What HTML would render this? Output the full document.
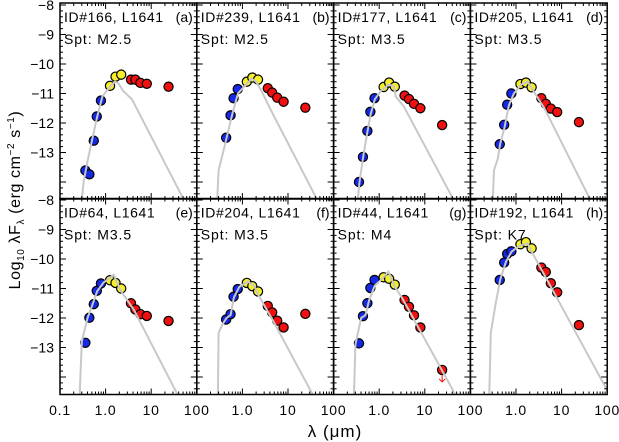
<!DOCTYPE html>
<html><head><meta charset="utf-8"><style>
body{margin:0;background:#fff}
svg{display:block;font-family:"Liberation Sans","DejaVu Sans",sans-serif}
</style></head><body>
<svg id="c" width="619" height="442" viewBox="0 0 619 442"></svg>
<script>
const panelIds=["ID#166, L1641","ID#239, L1641","ID#177, L1641","ID#205, L1641","ID#64, L1641","ID#204, L1641","ID#44, L1641","ID#192, L1641"];
const panelTags=["(a)","(b)","(c)","(d)","(e)","(f)","(g)","(h)"];
const panelSpt=["M2.5","M2.5","M3.5","M3.5","M3.5","M3.5","M4","K7"];
const yTicks=[-8,-9,-10,-11,-12,-13];
const xTicks=[0.1,1,10,100];
const xTickLabels=["0.1","1.0","10","100"];
// photometry: [lambda, log flux]
const blueA=[[0.36,-13.61],[0.44,-13.74],[0.55,-12.6],[0.64,-11.78],[0.79,-11.24]];
const yellowA=[[1.25,-10.74],[1.65,-10.43],[2.2,-10.36]];
const redA=[[3.6,-10.53],[4.5,-10.53],[5.8,-10.64],[8.0,-10.67],[24,-10.77]];
const blueB=[[0.44,-12.5],[0.55,-11.74],[0.64,-11.16],[0.79,-10.85]];
const yellowB=[[1.25,-10.6],[1.65,-10.46],[2.2,-10.53]];
const redB=[[3.6,-10.82],[4.5,-10.97],[5.8,-11.14],[8.0,-11.28],[24,-11.48]];
const blueC=[[0.36,-14.0],[0.44,-13.15],[0.55,-12.27],[0.64,-11.62],[0.79,-11.16]];
const yellowC=[[1.25,-10.78],[1.65,-10.63],[2.2,-10.77]];
const redC=[[3.6,-11.07],[4.5,-11.19],[5.8,-11.35],[8.0,-11.5],[24,-12.07]];
const blueD=[[0.44,-12.72],[0.55,-12.06],[0.64,-11.38],[0.79,-11.0]];
const yellowD=[[1.25,-10.68],[1.65,-10.63],[2.2,-10.79]];
const redD=[[3.6,-11.16],[4.5,-11.35],[5.8,-11.51],[8.0,-11.63],[24,-11.97]];
const blueE=[[0.36,-12.84],[0.44,-11.99],[0.55,-11.53],[0.64,-11.08],[0.79,-10.83]];
const yellowE=[[1.25,-10.72],[1.65,-10.81],[2.2,-11.0]];
const redE=[[3.6,-11.5],[4.5,-11.71],[5.8,-11.87],[8.0,-11.93],[24,-12.1]];
const blueF=[[0.44,-12.05],[0.55,-11.87],[0.64,-11.28],[0.79,-11.02]];
const yellowF=[[1.25,-10.81],[1.65,-10.92],[2.2,-11.1]];
const redF=[[3.6,-11.59],[4.5,-11.81],[5.8,-12.09],[8.0,-12.32],[24,-11.86]];
const blueG=[[0.36,-12.86],[0.44,-11.94],[0.55,-11.5],[0.64,-10.98],[0.79,-10.71]];
const yellowG=[[1.25,-10.62],[1.65,-10.67],[2.2,-10.87]];
const redG=[[3.6,-11.39],[4.5,-11.62],[5.8,-11.91],[8.0,-12.32],[24,-13.76]];
const blueH=[[0.44,-10.71],[0.55,-10.12],[0.64,-9.83],[0.79,-9.74]];
const yellowH=[[1.25,-9.5],[1.65,-9.43],[2.2,-9.64]];
const redH=[[3.6,-10.29],[4.5,-10.44],[5.8,-10.82],[8.0,-11.13],[24,-12.24]];
const upperLimitG=[[24,-13.76]];
// model photospheres
const modelA=[[0.3,-14.6],[0.33,-14.0],[0.4,-13.3],[0.5,-12.6],[0.65,-11.8],[0.85,-11.1],[1.2,-10.8],[1.6,-10.6],[1.9,-10.65],[2.4,-10.9],[3.8,-11.2],[48,-14.5]];
const modelB=[[0.28,-14.6],[0.3,-13.6],[0.35,-13.2],[0.45,-12.5],[0.6,-11.7],[0.8,-11.0],[1.2,-10.7],[1.6,-10.5],[2.0,-10.6],[2.6,-10.9],[4.2,-11.56],[42,-14.55]];
const modelC=[[0.34,-14.6],[0.37,-14.0],[0.45,-13.1],[0.55,-12.3],[0.65,-11.7],[0.8,-11.2],[1.1,-10.9],[1.6,-10.7],[2.1,-10.75],[2.3,-11.1],[3.5,-11.45],[41,-14.55]];
const modelD=[[0.31,-14.6],[0.33,-13.6],[0.4,-13.2],[0.45,-12.7],[0.55,-12.2],[0.7,-11.4],[0.9,-11.0],[1.3,-10.7],[1.8,-10.6],[2.5,-10.95],[4.4,-11.56],[41,-14.55]];
const modelE=[[0.27,-14.6],[0.3,-12.8],[0.4,-12.0],[0.5,-11.6],[0.65,-11.1],[0.9,-10.8],[1.5,-10.54],[2.2,-11.1],[4.2,-11.73],[38,-14.6]];
const modelF=[[0.29,-14.6],[0.3,-12.5],[0.37,-12.2],[0.45,-12.0],[0.55,-11.9],[0.65,-11.3],[0.85,-10.95],[1.3,-10.77],[1.8,-10.9],[2.2,-11.2],[5,-12.17],[35,-14.6]];
const modelG=[[0.28,-14.6],[0.3,-12.9],[0.4,-12.0],[0.5,-11.9],[0.6,-11.4],[0.8,-10.9],[1.2,-10.65],[1.6,-10.43],[2.2,-10.94],[3.2,-11.33],[47,-14.6]];
const modelH=[[0.26,-14.6],[0.28,-12.5],[0.35,-11.6],[0.45,-10.7],[0.6,-10.1],[0.8,-9.75],[1.2,-9.55],[1.8,-9.47],[2.3,-9.8],[100,-14.45]];

const blues=[blueA,blueB,blueC,blueD,blueE,blueF,blueG,blueH];
const yellows=[yellowA,yellowB,yellowC,yellowD,yellowE,yellowF,yellowG,yellowH];
const reds=[redA,redB,redC,redD,redE,redF,redG,redH];
const models=[modelA,modelB,modelC,modelD,modelE,modelF,modelG,modelH];

const NS="http://www.w3.org/2000/svg";
const svg=document.getElementById('c');
function mk(t,a,p){const e=document.createElementNS(NS,t);for(const k in a)e.setAttribute(k,a[k]);(p||svg).appendChild(e);return e;}
const L0=60,PW=136.8,T0=3,PH=196,Y8=5,PU=29.5,YMIN=-14.58;
function px(col){return L0+col*PW;}
function xs(col,l){return px(col)+(Math.log10(l)+1)*PW/3;}
function ys(row,v){return Y8+row*195+(-8-v)*PU;}

for(let i=0;i<8;i++){
  const col=i%4,row=Math.floor(i/4);
  const g=mk('g',{});
  
  
  const x0=px(col),x1=px(col+1),yt=T0+row*195.5,yb=yt+196;
  const cp=mk('clipPath',{id:'cp'+i},g);mk('rect',{x:x0,y:yt,width:PW,height:yb-yt},cp);
  const pg=mk('g',{'clip-path':'url(#cp'+i+')'},g);
  const sets=[[blues[i],'#1428e6','blue'],[yellows[i],'#f5ee2a','yellow'],[reds[i],'#f01010','red']];
  sets.forEach(([arr,colr,nm])=>{arr.forEach(d=>{
    const c=mk('circle',{cx:xs(col,d[0]),cy:ys(row,d[1]),r:4.6,fill:colr,stroke:'#000','stroke-width':1.2},pg);
    
    
  });});
  const pts=models[i].map(d=>xs(col,d[0]).toFixed(1)+','+ys(row,d[1]).toFixed(1)).join(' ');
  const pl=mk('polyline',{points:pts,fill:'none',stroke:'#c8c8c8','stroke-width':2},pg);
  
  
  if(i===6){upperLimitG.forEach(d=>{const ax=xs(col,d[0]),ay=ys(row,d[1]);
    const ar=mk('path',{d:`M${ax},${ay+5} L${ax},${ay+12} M${ax-3},${ay+9} L${ax},${ay+12} L${ax+3},${ay+9}`,stroke:'#f01010',fill:'none','stroke-width':1},pg);
    
    });}
  mk('rect',{x:x0,y:yt,width:PW,height:yb-yt,fill:'none',stroke:'#000','stroke-width':1.5},g);
  for(let d=-1;d<2;d++)for(let m=1;m<10;m++){const l=m*Math.pow(10,d);const X=xs(col,l);const len=m===1?6:3;
    mk('line',{x1:X,y1:yb,x2:X,y2:yb-len,stroke:'#000','stroke-width':1},g);
    mk('line',{x1:X,y1:yt,x2:X,y2:yt+len,stroke:'#000','stroke-width':1},g);}
  for(let v=-8;v>=-14.5;v-=0.2){const Y=ys(row,v);if(Y<yt||Y>yb)continue;const maj=Math.abs(v-Math.round(v))<0.01;const len=maj?6:3;
    mk('line',{x1:x0,y1:Y,x2:x0+len,y2:Y,stroke:'#000','stroke-width':1},g);
    mk('line',{x1:x1,y1:Y,x2:x1-len,y2:Y,stroke:'#000','stroke-width':1},g);}
  const t1=mk('text',{x:x0+4,y:yt+19,'font-size':14,'letter-spacing':0.6},g);t1.textContent=panelIds[i];
  
  const t2=mk('text',{x:x1-4,y:yt+19,'font-size':14,'text-anchor':'end'},g);t2.textContent=panelTags[i];
  
  const t3=mk('text',{x:x0+4,y:yt+41,'font-size':14,'letter-spacing':0.9},g);t3.textContent='Spt: '+panelSpt[i];
  
}
for(let row=0;row<2;row++)yTicks.forEach(v=>{const t=mk('text',{x:54,y:ys(row,v)+5,'font-size':14,'text-anchor':'end'});
  t.textContent='\u2212'+Math.abs(v);
  });
for(let col=0;col<4;col++)xTicks.forEach((l,k)=>{if(col>0&&k===0)return;const t=mk('text',{x:xs(col,l),y:415,'font-size':14,'text-anchor':'middle','letter-spacing':0.8});
  t.textContent=xTickLabels[k];
  });
const xt=mk('text',{x:335,y:437,'font-size':17,'text-anchor':'middle','letter-spacing':1});xt.textContent='λ (μm)';

const yt=mk('text',{transform:'translate(20,200) rotate(-90)','font-size':16,'text-anchor':'middle','letter-spacing':0.6});
yt.innerHTML='Log<tspan font-size="10" dy="4">10</tspan><tspan dy="-4"> λF</tspan><tspan font-size="10" dy="4">λ</tspan><tspan dy="-4"> (erg cm</tspan><tspan font-size="10" dy="-6">−2</tspan><tspan dy="6"> s</tspan><tspan font-size="10" dy="-6">−1</tspan><tspan dy="6">)</tspan>';

</script>
</body></html>
